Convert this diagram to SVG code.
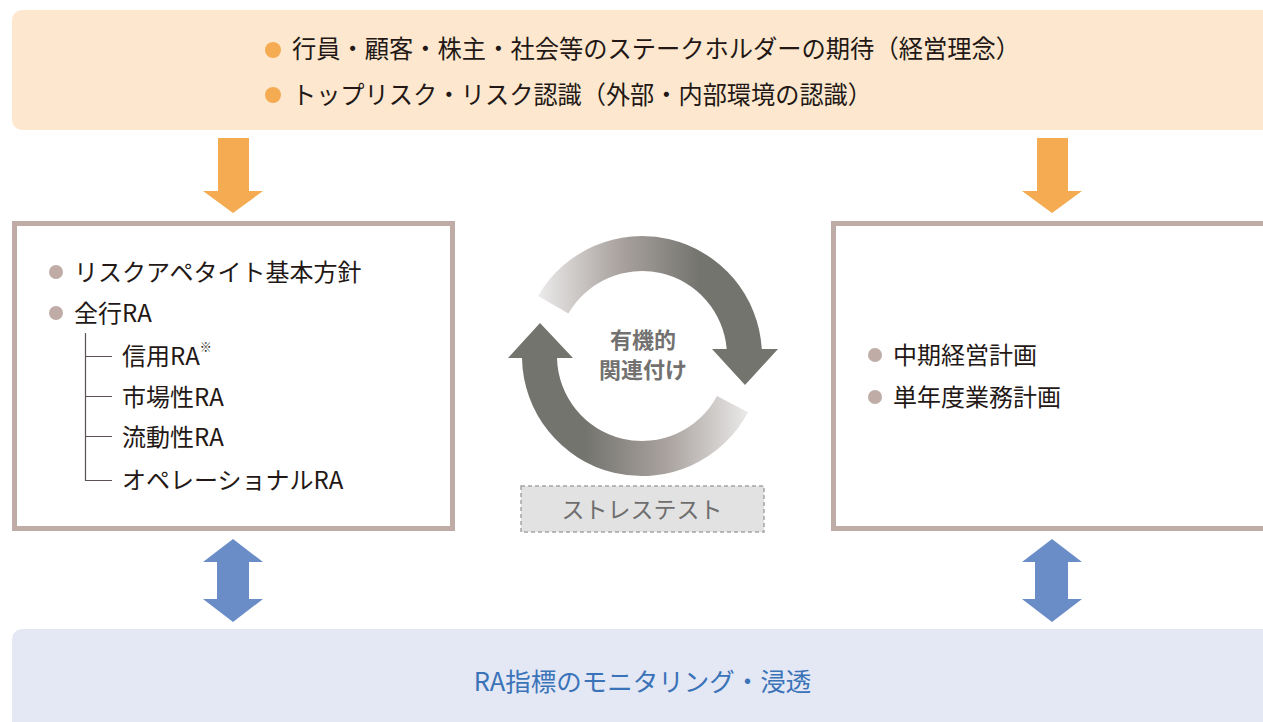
<svg xmlns="http://www.w3.org/2000/svg" width="1263" height="722" viewBox="0 0 1263 722">
<style>
text{font-family:"Noto Sans CJK JP","Noto Sans",sans-serif;dominant-baseline:central}
.dk{fill:#231815;font-size:24px}
.top{fill:#231815;font-size:25px}
.box{fill:#fff;stroke:#bfaca7;stroke-width:5}
.bul{fill:#bfaca7}
.obul{fill:#f4ab52}
.oarr{fill:#f4ab52}
.barr{fill:#6a8dc8}
.tree{stroke:#5a5250;stroke-width:1.2;fill:none}
</style>
<defs>
<linearGradient id="gUp" gradientUnits="userSpaceOnUse" x1="538" y1="0" x2="700" y2="0">
<stop offset="0" stop-color="#ecebeb"/>
<stop offset="0.5" stop-color="#aaa39f"/>
<stop offset="1" stop-color="#74746f"/>
</linearGradient>
<linearGradient id="gDn" gradientUnits="userSpaceOnUse" x1="585" y1="0" x2="750" y2="0">
<stop offset="0" stop-color="#74746f"/>
<stop offset="0.5" stop-color="#aaa39f"/>
<stop offset="1" stop-color="#ecebeb"/>
</linearGradient>
</defs>

<g id="top-band">
<rect x="12" y="10" width="1270" height="120" rx="10" fill="#fde8cf"/>
<circle class="obul" cx="273" cy="50" r="8"/>
<text class="top" x="292" y="47" textLength="728" lengthAdjust="spacingAndGlyphs">行員・顧客・株主・社会等のステークホルダーの期待（経営理念）</text>
<circle class="obul" cx="273" cy="95" r="8"/>
<text class="top" x="292" y="93" textLength="580" lengthAdjust="spacingAndGlyphs">トップリスク・リスク認識（外部・内部環境の認識）</text>
</g>

<g id="ra-box">
<rect class="box" x="14.5" y="223.5" width="438" height="305"/>
<circle class="bul" cx="56" cy="272" r="7"/>
<text class="dk" x="74" y="270">リスクアペタイト基本方針</text>
<circle class="bul" cx="56" cy="313" r="7"/>
<text class="dk" x="74" y="311">全行RA</text>
<path class="tree" d="M85.5 333 V480.5 H112 M85.5 356.5 H112 M85.5 396.5 H112 M85.5 436.5 H112"/>
<text class="dk" x="122" y="354">信用RA<tspan font-size="12" dy="-8">※</tspan></text>
<text class="dk" x="122" y="395">市場性RA</text>
<text class="dk" x="122" y="435">流動性RA</text>
<text class="dk" x="122" y="478">オペレーショナルRA</text>
</g>

<g id="plan-box">
<rect class="box" x="833.5" y="223.5" width="500" height="305"/>
<circle class="bul" cx="875" cy="355" r="7"/>
<text class="dk" x="893" y="353">中期経営計画</text>
<circle class="bul" cx="875" cy="397" r="7"/>
<text class="dk" x="893" y="395">単年度業務計画</text>
</g>

<g id="cycle">
<path fill="url(#gUp)" d="M538.1 296 A120 120 0 0 1 761.8 349 L778 349 L745 385 L712 349 L726.7 349 A85 85 0 0 0 568.4 313.5 Z"/>
<path fill="url(#gDn)" d="M748 412.3 A120 120 0 0 1 522 358 L508 358 L540 323 L573 358 L557 358 A85 85 0 0 0 717 395.9 Z"/>
<text x="643" y="338" text-anchor="middle" font-size="22" font-weight="700" fill="#727170">有機的</text>
<text x="643" y="368" text-anchor="middle" font-size="22" font-weight="700" fill="#727170">関連付け</text>
</g>

<g id="stress-test">
<rect x="521" y="486" width="243" height="46" fill="#e2e2e2" stroke="#a5a5a5" stroke-width="1.5" stroke-dasharray="4 3"/>
<text x="642" y="508" text-anchor="middle" font-size="23" fill="#6e6e6e">ストレステスト</text>
</g>

<g id="bottom-band">
<rect x="12" y="629" width="1270" height="110" rx="10" fill="#e3e8f4"/>
<text x="642.5" y="679" text-anchor="middle" font-size="25.5" fill="#3b73b9">RA指標のモニタリング・浸透</text>
</g>

<g id="connectors">
<polygon class="oarr" points="218,138 249,138 249,191 263,191 233,213 203,191 218,191"/>
<polygon class="oarr" points="1037,138 1068,138 1068,191 1082,191 1052,213 1022,191 1037,191"/>
<polygon class="barr" points="233,539 263,562 249,562 249,599 263,599 233,622 203,599 217,599 217,562 203,562"/>
<polygon class="barr" points="1052,539 1082,562 1068,562 1068,599 1082,599 1052,622 1022,599 1035,599 1035,562 1022,562"/>
</g>
</svg>
